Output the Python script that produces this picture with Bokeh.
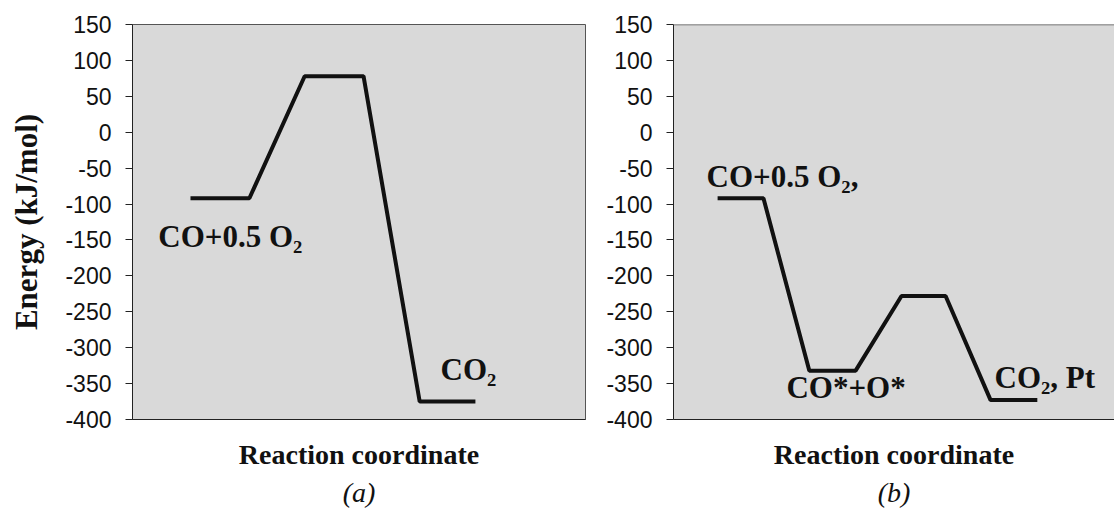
from bokeh.plotting import figure
from bokeh.layouts import row
from bokeh.models import Range1d, FixedTicker, Span, LinearAxis, PrintfTickFormatter
from bokeh.core.properties import value
from bokeh.embed import file_html
from bokeh.resources import INLINE

# ---- data ----
y_ticks = [-400, -350, -300, -250, -200, -150, -100, -50, 0, 50, 100, 150]

a_coord = [1.28, 2.58, 3.80, 5.10, 6.34, 7.57]
a_energy = [-92, -92, 78, 78, -375, -375]
a_label_text = ["CO+0.5 O\u2082", "CO\u2082"]
a_label_x = [0.57, 6.80]
a_label_y = [-145, -330]

b_coord = [1.00, 2.04, 3.08, 4.13, 5.17, 6.17, 7.19, 8.25]
b_energy = [-92, -92, -332, -332, -228, -228, -373, -373]
b_label_text = ["CO+0.5 O\u2082,", "CO*+O*", "CO\u2082, Pt"]
b_label_x = [0.75, 2.56, 7.28]
b_label_y = [-61, -355, -341]

x_title = "Reaction coordinate"
y_title = "Energy (kJ/mol)"
captions = ["(a)", "(b)"]

SERIF = "Liberation Serif"
SANS = "Liberation Sans"


def make_panel(width, mleft, mright, xs, ys, lx, ly, lt, caption, ylabel, right_border):
    p = figure(width=width, height=510, x_range=Range1d(0, 10), y_range=Range1d(-400, 150),
               output_backend="svg", toolbar_location=None,
               min_border_left=mleft, min_border_right=mright,
               min_border_top=24, min_border_bottom=91)
    p.background_fill_color = "#d9d9d9"
    p.border_fill_color = "white"
    p.grid.visible = False
    if right_border:
        p.outline_line_color = "#555555"
    else:
        p.outline_line_color = None
        p.add_layout(Span(location=150, dimension="width", line_color="#555555", line_width=1.5))

    ya = p.yaxis[0]
    ya.ticker = FixedTicker(ticks=y_ticks)
    ya.formatter = PrintfTickFormatter(format="%d")
    ya.major_tick_in = 0
    ya.major_tick_out = 7
    ya.minor_tick_line_color = None
    ya.axis_line_color = "#222222"
    ya.major_tick_line_color = "#222222"
    ya.major_label_text_font = SANS
    ya.major_label_text_font_size = "23px"
    ya.major_label_text_color = "#111111"
    ya.major_label_standoff = 14
    if ylabel:
        ya.axis_label = ylabel
        ya.axis_label_text_font = SERIF
        ya.axis_label_text_font_style = "bold"
        ya.axis_label_text_font_size = "31px"
        ya.axis_label_text_color = "#111111"
        ya.axis_label_standoff = 18

    xa = p.xaxis[0]
    xa.ticker = FixedTicker(ticks=[])
    xa.major_tick_in = 0
    xa.major_tick_out = 0
    xa.minor_tick_line_color = None
    xa.axis_line_color = "#222222"
    xa.axis_label = x_title
    xa.axis_label_text_font = SERIF
    xa.axis_label_text_font_style = "bold"
    xa.axis_label_text_font_size = "28px"
    xa.axis_label_text_color = "#111111"
    xa.axis_label_standoff = 19

    cap = LinearAxis(ticker=FixedTicker(ticks=[]), axis_line_color=None,
                     major_tick_in=0, major_tick_out=0, minor_tick_line_color=None,
                     axis_label=caption, axis_label_standoff=4,
                     axis_label_text_font=SERIF, axis_label_text_font_style="italic",
                     axis_label_text_font_size="28px", axis_label_text_color="#111111")
    p.add_layout(cap, "below")

    p.line(xs, ys, line_width=4, line_color="#111111")
    p.text(x=lx, y=ly, text=lt, text_font=value(SERIF), text_font_style="bold",
           text_font_size="31px", text_color="#111111",
           text_align="left", text_baseline="alphabetic")
    return p


p1 = make_panel(586, 132, 1, a_coord, a_energy, a_label_x, a_label_y, a_label_text,
                captions[0], y_title, True)
p2 = make_panel(528, 87, 0, b_coord, b_energy, b_label_x, b_label_y, b_label_text,
                captions[1], None, False)

layout = row(p1, p2)
open("out.html", "w").write(file_html(layout, INLINE))
